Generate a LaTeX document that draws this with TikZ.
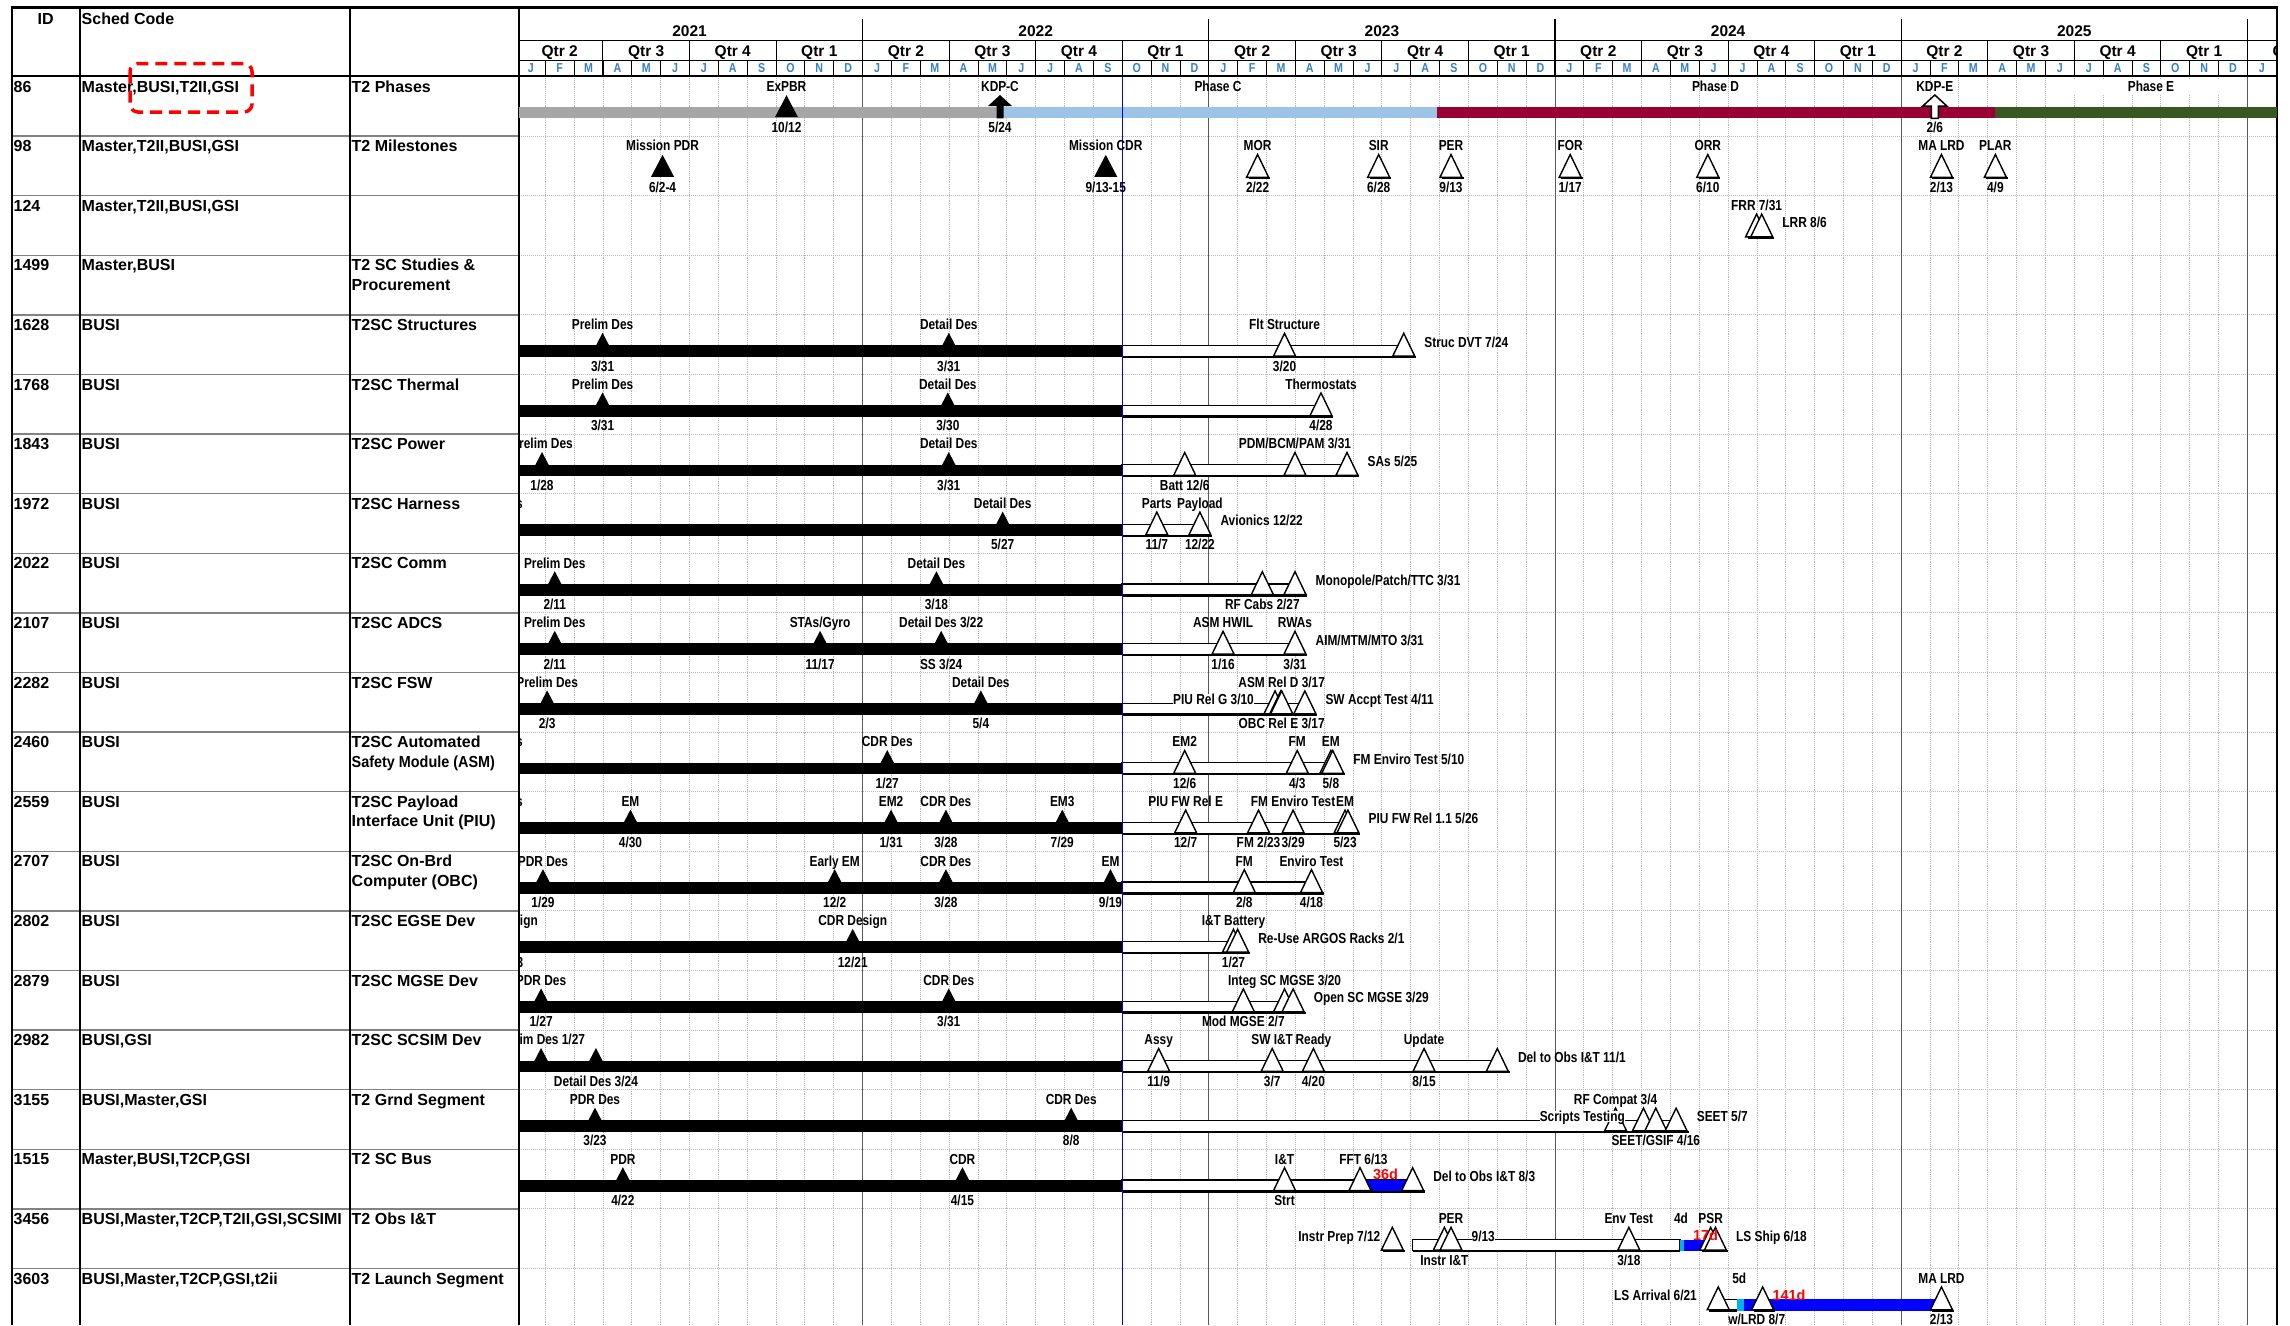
\documentclass[tikz,border=0pt]{standalone}
\usepackage{fontspec}
\setmainfont{Liberation Sans}
\newfontfamily\nar{Liberation Sans}[FakeStretch=0.82]
\definecolor{mblue}{RGB}{51,128,204}
\definecolor{phgray}{RGB}{166,166,166}
\definecolor{phblue}{RGB}{157,195,230}
\definecolor{phred}{RGB}{153,0,51}
\definecolor{phgreen}{RGB}{56,87,35}
\definecolor{cyanb}{RGB}{0,176,240}
\definecolor{gridc}{RGB}{185,185,185}
\definecolor{rowc}{RGB}{130,130,130}
\newcounter{nd}
\newcommand\nx{\stepcounter{nd}\edef\ndn{n\arabic{nd}}}
\newcommand\RY[1]{\pgfmathsetmacro\yy{76.4+59.6*#1}}
\newcommand\setx[1]{\pgfmathsetmacro\xx{#1}}
\newcommand\lab[3]{\nx\node[lbl,name=\ndn] at (#1,#2) {#3};}
\newcommand\labs[2]{%
  \if\relax\detokenize{#1}\relax\else\lab{\xx}{\yy+9.6}{#1}\fi
  \if\relax\detokenize{#2}\relax\else\lab{\xx}{\yy+51}{#2}\fi}
\newcommand\FT[4]{\setx{#1}\RY{#2}%
  \fill (\xx-7,\yy+31.5) -- (\xx,\yy+18) -- (\xx+7,\yy+31.5) -- cycle;
  \labs{#3}{#4}}
\newcommand\FB[4]{\setx{#1}\RY{#2}%
  \fill (\xx-11.5,\yy+40.8) -- (\xx,\yy+18.8) -- (\xx+11.5,\yy+40.8) -- cycle;
  \labs{#3}{#4}}
\newcommand\OT[4]{\setx{#1}\RY{#2}%
  \draw[line width=2.2pt] (\xx-9,\yy+42.2) -- (\xx+12.5,\yy+42.2);
  \filldraw[fill=white,line width=1.4pt,line join=miter] (\xx-11,\yy+41.3) -- (\xx,\yy+18.5) -- (\xx+11,\yy+41.3) -- cycle;
  \labs{#3}{#4}}
\newcommand\RL[3]{\setx{#1}\RY{#2}\nx\node[lbl,anchor=west,name=\ndn] at (\xx+20.5,\yy+27) {#3};}
\newcommand\RLW[3]{\setx{#1}\RY{#2}\nx\node[lbl,anchor=west,fill=white,name=\ndn] at (\xx+20.5,\yy+27) {#3};}
\newcommand\LL[3]{\setx{#1}\RY{#2}\nx\node[lbl,anchor=east,fill=white,name=\ndn] at (\xx,\yy+27) {#3};}
\newcommand\OB[3]{\RY{#1}\pgfmathsetmacro\xa{#2}\pgfmathsetmacro\xb{#3}%
  \draw[line width=2.2pt] (\xa,\yy+42.3) -- (\xb,\yy+42.3);
  \filldraw[fill=white,line width=1.1pt] (\xa,\yy+30.8) rectangle (\xb,\yy+41.6);}
\newcommand\BB[2]{\RY{#1}\fill (519,\yy+30.5) rectangle (1122,\yy+42.3);\OB{#1}{1122}{#2}}
\newcommand\CB[4]{\RY{#1}\pgfmathsetmacro\xa{#2}\pgfmathsetmacro\xb{#3}%
  \fill[#4] (\xa,\yy+30.8) rectangle (\xb,\yy+42.2);}
\newcommand\TR[5]{\RY{#1}%
  \nx\node[tbl,name=\ndn] at (13.5,\yy+10) {#2};
  \nx\node[tbl,name=\ndn] at (81.5,\yy+10) {#3};
  \if\relax\detokenize{#4}\relax\else\nx\node[tbl,name=\ndn] at (351.5,\yy+10) {#4};\fi
  \if\relax\detokenize{#5}\relax\else\nx\node[tbl,name=\ndn] at (351.5,\yy+29.3) {#5};\fi}
\begin{document}
\begin{tikzpicture}[x=1pt,y=-1pt,
  declare function={dt(\a,\b,\c)=516.4+346.2*(\a-2021)+28.85*(\b-1)+0.949*(\c-1);},
  lbl/.style={font=\nar\bfseries\fontsize{14.5}{17}\selectfont,inner sep=0pt,text height=10.4pt,text depth=0pt},
  redl/.style={font=\bfseries\fontsize{14.5}{17}\selectfont,text=red,inner sep=0pt,text height=10.4pt,text depth=0pt},
  tbl/.style={font=\bfseries\fontsize{16}{19}\selectfont,inner sep=0pt,text height=11.5pt,text depth=0pt,anchor=west},
  hdr/.style={font=\bfseries\fontsize{15.5}{18}\selectfont,inner sep=0pt,text height=11.1pt,text depth=0pt},
  mon/.style={font=\nar\bfseries\fontsize{13}{15}\selectfont,text=mblue,inner sep=0pt,text height=9.3pt,text depth=0pt}]
\useasboundingbox (0,0) rectangle (2290,1325);
\fill[white] (0,0) rectangle (2290,1325);
% ---------- body grid
\begin{scope}
\clip (519,76) rectangle (2277,1325);
\foreach \k in {1,...,62} {\pgfmathtruncatemacro\rr{mod(\k,12)}\ifnum\rr=0\else
  \draw[gridc,densely dotted,line width=0.9pt] ({516.4+28.85*\k},76) -- ({516.4+28.85*\k},1325);\fi}
\foreach \i in {1,...,20} \draw[gridc,densely dotted,line width=1pt] (519,{76.4+59.6*\i}) -- (2277,{76.4+59.6*\i});
\foreach \k in {1,...,5} \draw[black!65,line width=1pt] ({516.4+346.2*\k},76) -- ({516.4+346.2*\k},1325);
\end{scope}
% ---------- table row lines
\foreach \i in {1,...,20} \draw[rowc,line width=1.4pt] (12,{76.4+59.6*\i}) -- (519,{76.4+59.6*\i});
% ---------- time-scale header
\begin{scope}
\clip (519,7) rectangle (2277,76);
\foreach \yr in {0,...,5} {
  \foreach \ml [count=\i from 0] in {J,F,M,A,M,J,J,A,S,O,N,D}
    {\nx\node[mon,name=\ndn] at ({516.4+346.2*\yr+28.85*(\i+0.5)},68) {\ml};}
  \foreach \q [count=\i from 0] in {2,3,4,1}
    {\nx\node[hdr,name=\ndn] at ({516.4+346.2*\yr+86.55*(\i+0.5)},50.5) {Qtr \q};}
}
\foreach \yr in {0,...,4} {\pgfmathtruncatemacro\yl{2021+\yr}\nx\node[hdr,name=\ndn] at ({516.4+346.2*(\yr+0.5)},30.5) {\yl};}
\foreach \k in {1,...,62} \draw[line width=0.9pt] ({516.4+28.85*\k},60) -- ({516.4+28.85*\k},76);
\foreach \k in {1,...,20} \draw[line width=1pt] ({516.4+86.55*\k},40.7) -- ({516.4+86.55*\k},76);
\foreach \k in {1,...,5} \draw[line width=1.1pt] ({516.4+346.2*\k},19) -- ({516.4+346.2*\k},76);
\end{scope}
\draw[line width=1pt] (519,40.7) -- (2277,40.7);
\draw[line width=1pt] (519,60) -- (2277,60);
\draw[line width=1.4pt] (12,76) -- (2277,76);
\draw[line width=1.2pt] (80,7.5) -- (80,1325);
\draw[line width=1.2pt] (350,7.5) -- (350,1325);
\draw[line width=1.4pt] (519,7.5) -- (519,1325);
\draw[line width=2.6pt] (12,1325) -- (12,7.5) -- (2277,7.5) -- (2277,1325);
% ---------- table text
\nx\node[tbl,anchor=center,name=\ndn] at (45.6,18.7) {ID};
\nx\node[tbl,name=\ndn] at (81.5,18.7) {Sched Code};
\TR{0}{86}{Master,BUSI,T2II,GSI}{T2 Phases}{}
\TR{1}{98}{Master,T2II,BUSI,GSI}{T2 Milestones}{}
\TR{2}{124}{Master,T2II,BUSI,GSI}{}{}
\TR{3}{1499}{Master,BUSI}{T2 SC Studies \&}{Procurement}
\TR{4}{1628}{BUSI}{T2SC Structures}{}
\TR{5}{1768}{BUSI}{T2SC Thermal}{}
\TR{6}{1843}{BUSI}{T2SC Power}{}
\TR{7}{1972}{BUSI}{T2SC Harness}{}
\TR{8}{2022}{BUSI}{T2SC Comm}{}
\TR{9}{2107}{BUSI}{T2SC ADCS}{}
\TR{10}{2282}{BUSI}{T2SC FSW}{}
\TR{11}{2460}{BUSI}{T2SC Automated}{\scalebox{0.9}[1]{Safety Module (ASM)}}
\TR{12}{2559}{BUSI}{T2SC Payload}{Interface Unit (PIU)}
\TR{13}{2707}{BUSI}{T2SC On-Brd}{Computer (OBC)}
\TR{14}{2802}{BUSI}{T2SC EGSE Dev}{}
\TR{15}{2879}{BUSI}{T2SC MGSE Dev}{}
\TR{16}{2982}{BUSI,GSI}{T2SC SCSIM Dev}{}
\TR{17}{3155}{BUSI,Master,GSI}{T2 Grnd Segment}{}
\TR{18}{1515}{Master,BUSI,T2CP,GSI}{T2 SC Bus}{}
\TR{19}{3456}{BUSI,Master,T2CP,T2II,GSI,SCSIMI}{T2 Obs I\&T}{}
\TR{20}{3603}{BUSI,Master,T2CP,GSI,t2ii}{T2 Launch Segment}{}
\draw[red,line width=3.5pt,dash pattern=on 12pt off 7pt,rounded corners=8pt] (130,63.5) rectangle (252,112);
% ---------- chart content
\begin{scope}
\clip (519,76) rectangle (2277,1325);
% bars
\fill[phgray] (519,106.7) rectangle (1000,118.4);
\fill[phblue] (1000,106.7) rectangle (1436.5,118.4);
\fill[phred] (1436.5,106.7) rectangle (1994.6,118.4);
\fill[phgreen] (1994.6,106.7) rectangle (2277,118.4);
\BB{4}{dt(2023,7,24)}
\BB{5}{dt(2023,4,28)}
\BB{6}{dt(2023,5,25)}
\BB{7}{dt(2022,12,22)}
\BB{8}{dt(2023,3,31)}
\BB{9}{dt(2023,3,31)}
\BB{10}{dt(2023,4,11)}
\BB{11}{dt(2023,5,10)}
\BB{12}{dt(2023,5,26)}
\BB{13}{dt(2023,4,18)}
\BB{14}{dt(2023,2,1)}
\BB{15}{dt(2023,3,29)}
\BB{16}{dt(2023,11,1)}
\BB{17}{dt(2024,5,7)}
\BB{18}{dt(2023,8,3)}
\CB{18}{1365.6}{1413}{blue}
\OB{19}{dt(2023,8,3)}{1680}
\CB{19}{1680}{1684.3}{cyanb}
\CB{19}{1684.3}{1711}{blue}
\OB{20}{dt(2024,6,21)}{1737.3}
\CB{20}{1737.3}{1744}{cyanb}
\CB{20}{1744}{1945}{blue}
% today line
\draw[blue,line width=1pt] (1122,76) -- (1122,1325);
% row 0 phases
\FB{dt(2021,10,12)}{0}{ExPBR}{10/12}
\fill (1000,95) -- (1012,106) -- (1003.5,106) -- (1003.5,118.4) -- (996.5,118.4) -- (996.5,106) -- (988,106) -- cycle;
\lab{1000}{86}{KDP-C}\lab{1000}{127.4}{5/24}
\lab{1218}{86}{Phase C}
\lab{1715.5}{86}{Phase D}
\filldraw[fill=white,line width=1.5pt] (1934.8,95) -- (1946.8,106) -- (1938.3,106) -- (1938.3,118.4) -- (1931.3,118.4) -- (1931.3,106) -- (1922.8,106) -- cycle;
\lab{1934.8}{86}{KDP-E}\lab{1934.8}{127.4}{2/6}
\fill[white] (2072,78.5) rectangle (2245,95);
\lab{2151}{86}{Phase E}
% row 1 milestones
\FB{dt(2021,6,3)}{1}{Mission PDR}{6/2-4}
\FB{dt(2022,9,14)}{1}{Mission CDR}{9/13-15}
\OT{dt(2023,2,22)}{1}{MOR}{2/22}
\OT{dt(2023,6,28)}{1}{SIR}{6/28}
\OT{dt(2023,9,13)}{1}{PER}{9/13}
\OT{dt(2024,1,17)}{1}{FOR}{1/17}
\OT{dt(2024,6,10)}{1}{ORR}{6/10}
\OT{dt(2025,2,13)}{1}{MA LRD}{2/13}
\OT{dt(2025,4,9)}{1}{PLAR}{4/9}
% row 2
\OT{dt(2024,7,31)}{2}{FRR 7/31}{}
\OT{dt(2024,8,6)}{2}{}{}
\RL{dt(2024,8,6)}{2}{LRR 8/6}
% row 4
\FT{dt(2021,3,31)}{4}{Prelim Des}{3/31}
\FT{dt(2022,3,31)}{4}{Detail Des}{3/31}
\OT{dt(2023,3,20)}{4}{Flt Structure}{3/20}
\OT{dt(2023,7,24)}{4}{}{}
\RL{dt(2023,7,24)}{4}{Struc DVT 7/24}
% row 5
\FT{dt(2021,3,31)}{5}{Prelim Des}{3/31}
\FT{dt(2022,3,30)}{5}{Detail Des}{3/30}
\OT{dt(2023,4,28)}{5}{Thermostats}{4/28}
% row 6
\FT{dt(2021,1,28)}{6}{Prelim Des}{1/28}
\FT{dt(2022,3,31)}{6}{Detail Des}{3/31}
\OT{dt(2022,12,6)}{6}{}{Batt 12/6}
\OT{dt(2023,3,31)}{6}{PDM/BCM/PAM 3/31}{}
\OT{dt(2023,5,25)}{6}{}{}
\RL{dt(2023,5,25)}{6}{SAs 5/25}
% row 7
\RY{7}\lab{492}{\yy+9.6}{Prelim Des}
\FT{dt(2022,5,27)}{7}{Detail Des}{5/27}
\OT{dt(2022,11,7)}{7}{Parts}{11/7}
\OT{dt(2022,12,22)}{7}{Payload}{12/22}
\RL{dt(2022,12,22)}{7}{Avionics 12/22}
% row 8
\FT{dt(2021,2,11)}{8}{Prelim Des}{2/11}
\FT{dt(2022,3,18)}{8}{Detail Des}{3/18}
\OT{dt(2023,2,27)}{8}{}{RF Cabs 2/27}
\OT{dt(2023,3,31)}{8}{}{}
\RL{dt(2023,3,31)}{8}{Monopole/Patch/TTC 3/31}
% row 9
\FT{dt(2021,2,11)}{9}{Prelim Des}{2/11}
\FT{dt(2021,11,17)}{9}{STAs/Gyro}{11/17}
\FT{dt(2022,3,23)}{9}{Detail Des 3/22}{SS 3/24}
\OT{dt(2023,1,16)}{9}{ASM HWIL}{1/16}
\OT{dt(2023,3,31)}{9}{RWAs}{3/31}
\RL{dt(2023,3,31)}{9}{AIM/MTM/MTO 3/31}
% row 10
\FT{dt(2021,2,3)}{10}{Prelim Des}{2/3}
\FT{dt(2022,5,4)}{10}{Detail Des}{5/4}
\OT{dt(2023,3,10)}{10}{}{}
\OT{dt(2023,3,16)}{10}{}{}
\OT{dt(2023,3,17)}{10}{ASM Rel D 3/17}{OBC Rel E 3/17}
\OT{dt(2023,4,11)}{10}{}{}
\RL{dt(2023,4,11)}{10}{SW Accpt Test 4/11}
\LL{1254}{10}{PIU Rel G 3/10}
% row 11
\RY{11}\lab{492}{\yy+9.6}{Prelim Des}
\FT{dt(2022,1,27)}{11}{CDR Des}{1/27}
\OT{dt(2022,12,6)}{11}{EM2}{12/6}
\OT{dt(2023,4,3)}{11}{FM}{4/3}
\OT{dt(2023,5,8)}{11}{EM}{5/8}
\OT{dt(2023,5,10)}{11}{}{}
\RL{dt(2023,5,10)}{11}{FM Enviro Test 5/10}
% row 12
\RY{12}\lab{492}{\yy+9.6}{Prelim Des}
\FT{dt(2021,4,30)}{12}{EM}{4/30}
\FT{dt(2022,1,31)}{12}{EM2}{1/31}
\FT{dt(2022,3,28)}{12}{CDR Des}{3/28}
\FT{dt(2022,7,29)}{12}{EM3}{7/29}
\OT{dt(2022,12,7)}{12}{PIU FW Rel E}{12/7}
\OT{dt(2023,2,23)}{12}{}{FM 2/23}
\OT{dt(2023,3,29)}{12}{FM Enviro Test}{3/29}
\OT{dt(2023,5,23)}{12}{EM}{5/23}
\OT{dt(2023,5,26)}{12}{}{}
\RL{dt(2023,5,26)}{12}{PIU FW Rel 1.1 5/26}
% row 13
\FT{dt(2021,1,29)}{13}{PDR Des}{1/29}
\FT{dt(2021,12,2)}{13}{Early EM}{12/2}
\FT{dt(2022,3,28)}{13}{CDR Des}{3/28}
\FT{dt(2022,9,19)}{13}{EM}{9/19}
\OT{dt(2023,2,8)}{13}{FM}{2/8}
\OT{dt(2023,4,18)}{13}{Enviro Test}{4/18}
% row 14
\RY{14}\nx\node[lbl,anchor=east,name=\ndn] at (538,\yy+9.6) {PDR Design};
\nx\node[lbl,anchor=east,name=\ndn] at (523.5,\yy+51) {12/3};
\FT{dt(2021,12,21)}{14}{CDR Design}{12/21}
\OT{dt(2023,1,27)}{14}{I\&T Battery}{1/27}
\OT{dt(2023,2,1)}{14}{}{}
\RL{dt(2023,2,1)}{14}{Re-Use ARGOS Racks 2/1}
% row 15
\FT{dt(2021,1,27)}{15}{PDR Des}{1/27}
\FT{dt(2022,3,31)}{15}{CDR Des}{3/31}
\OT{dt(2023,2,7)}{15}{}{Mod MGSE 2/7}
\OT{dt(2023,3,20)}{15}{Integ SC MGSE 3/20}{}
\OT{dt(2023,3,29)}{15}{}{}
\RL{dt(2023,3,29)}{15}{Open SC MGSE 3/29}
% row 16
\FT{dt(2021,1,27)}{16}{Prelim Des 1/27}{}
\FT{dt(2021,3,24)}{16}{}{Detail Des 3/24}
\OT{dt(2022,11,9)}{16}{Assy}{11/9}
\OT{dt(2023,3,7)}{16}{SW I\&T}{3/7}
\OT{dt(2023,4,20)}{16}{Ready}{4/20}
\OT{dt(2023,8,15)}{16}{Update}{8/15}
\OT{dt(2023,11,1)}{16}{}{}
\RL{dt(2023,11,1)}{16}{Del to Obs I\&T 11/1}
% row 17
\FT{dt(2021,3,23)}{17}{PDR Des}{3/23}
\FT{dt(2022,8,8)}{17}{CDR Des}{8/8}
\OT{dt(2024,3,4)}{17}{RF Compat 3/4}{}
\LL{1625}{17}{Scripts Testing}
\OT{dt(2024,4,3)}{17}{}{}
\OT{dt(2024,4,16)}{17}{}{SEET/GSIF 4/16}
\OT{dt(2024,5,7)}{17}{}{}
\RL{dt(2024,5,7)}{17}{SEET 5/7}
% row 18
\FT{dt(2021,4,22)}{18}{PDR}{4/22}
\FT{dt(2022,4,15)}{18}{CDR}{4/15}
\OT{dt(2023,3,20)}{18}{I\&T}{Strt}
\OT{1360}{18}{}{}
\RY{18}\lab{1363.4}{\yy+9.6}{FFT 6/13}
\OT{dt(2023,8,3)}{18}{}{}
\RY{18}\nx\node[redl,name=\ndn] at (1385.5,\yy+25.5) {36d};
\RL{dt(2023,8,3)}{18}{Del to Obs I\&T 8/3}
% row 19
\OT{dt(2023,7,12)}{19}{}{}
\LL{1380.5}{19}{Instr Prep 7/12}
\OT{dt(2023,9,6)}{19}{}{Instr I\&T}
\OT{dt(2023,9,13)}{19}{PER}{}
\RLW{dt(2023,9,13)}{19}{9/13}
\OT{dt(2024,3,18)}{19}{Env Test}{3/18}
\RY{19}\lab{1681}{\yy+9.6}{4d}
\OT{dt(2024,6,13)}{19}{PSR}{}
\OT{dt(2024,6,18)}{19}{}{}
\RY{19}\nx\node[redl,name=\ndn] at (1705.5,\yy+26) {17d};
\RL{dt(2024,6,18)}{19}{LS Ship 6/18}
% row 20
\OT{dt(2024,6,21)}{20}{}{}
\LL{1697}{20}{LS Arrival 6/21}
\RY{20}\lab{1739.3}{\yy+9.6}{5d}
\OT{dt(2024,8,7)}{20}{}{}
\RY{20}\lab{1756.7}{\yy+51}{w/LRD 8/7}
\RY{20}\nx\node[redl,name=\ndn] at (1789,\yy+26.6) {141d};
\OT{dt(2025,2,13)}{20}{MA LRD}{2/13}
\end{scope}
\end{tikzpicture}
\end{document}
